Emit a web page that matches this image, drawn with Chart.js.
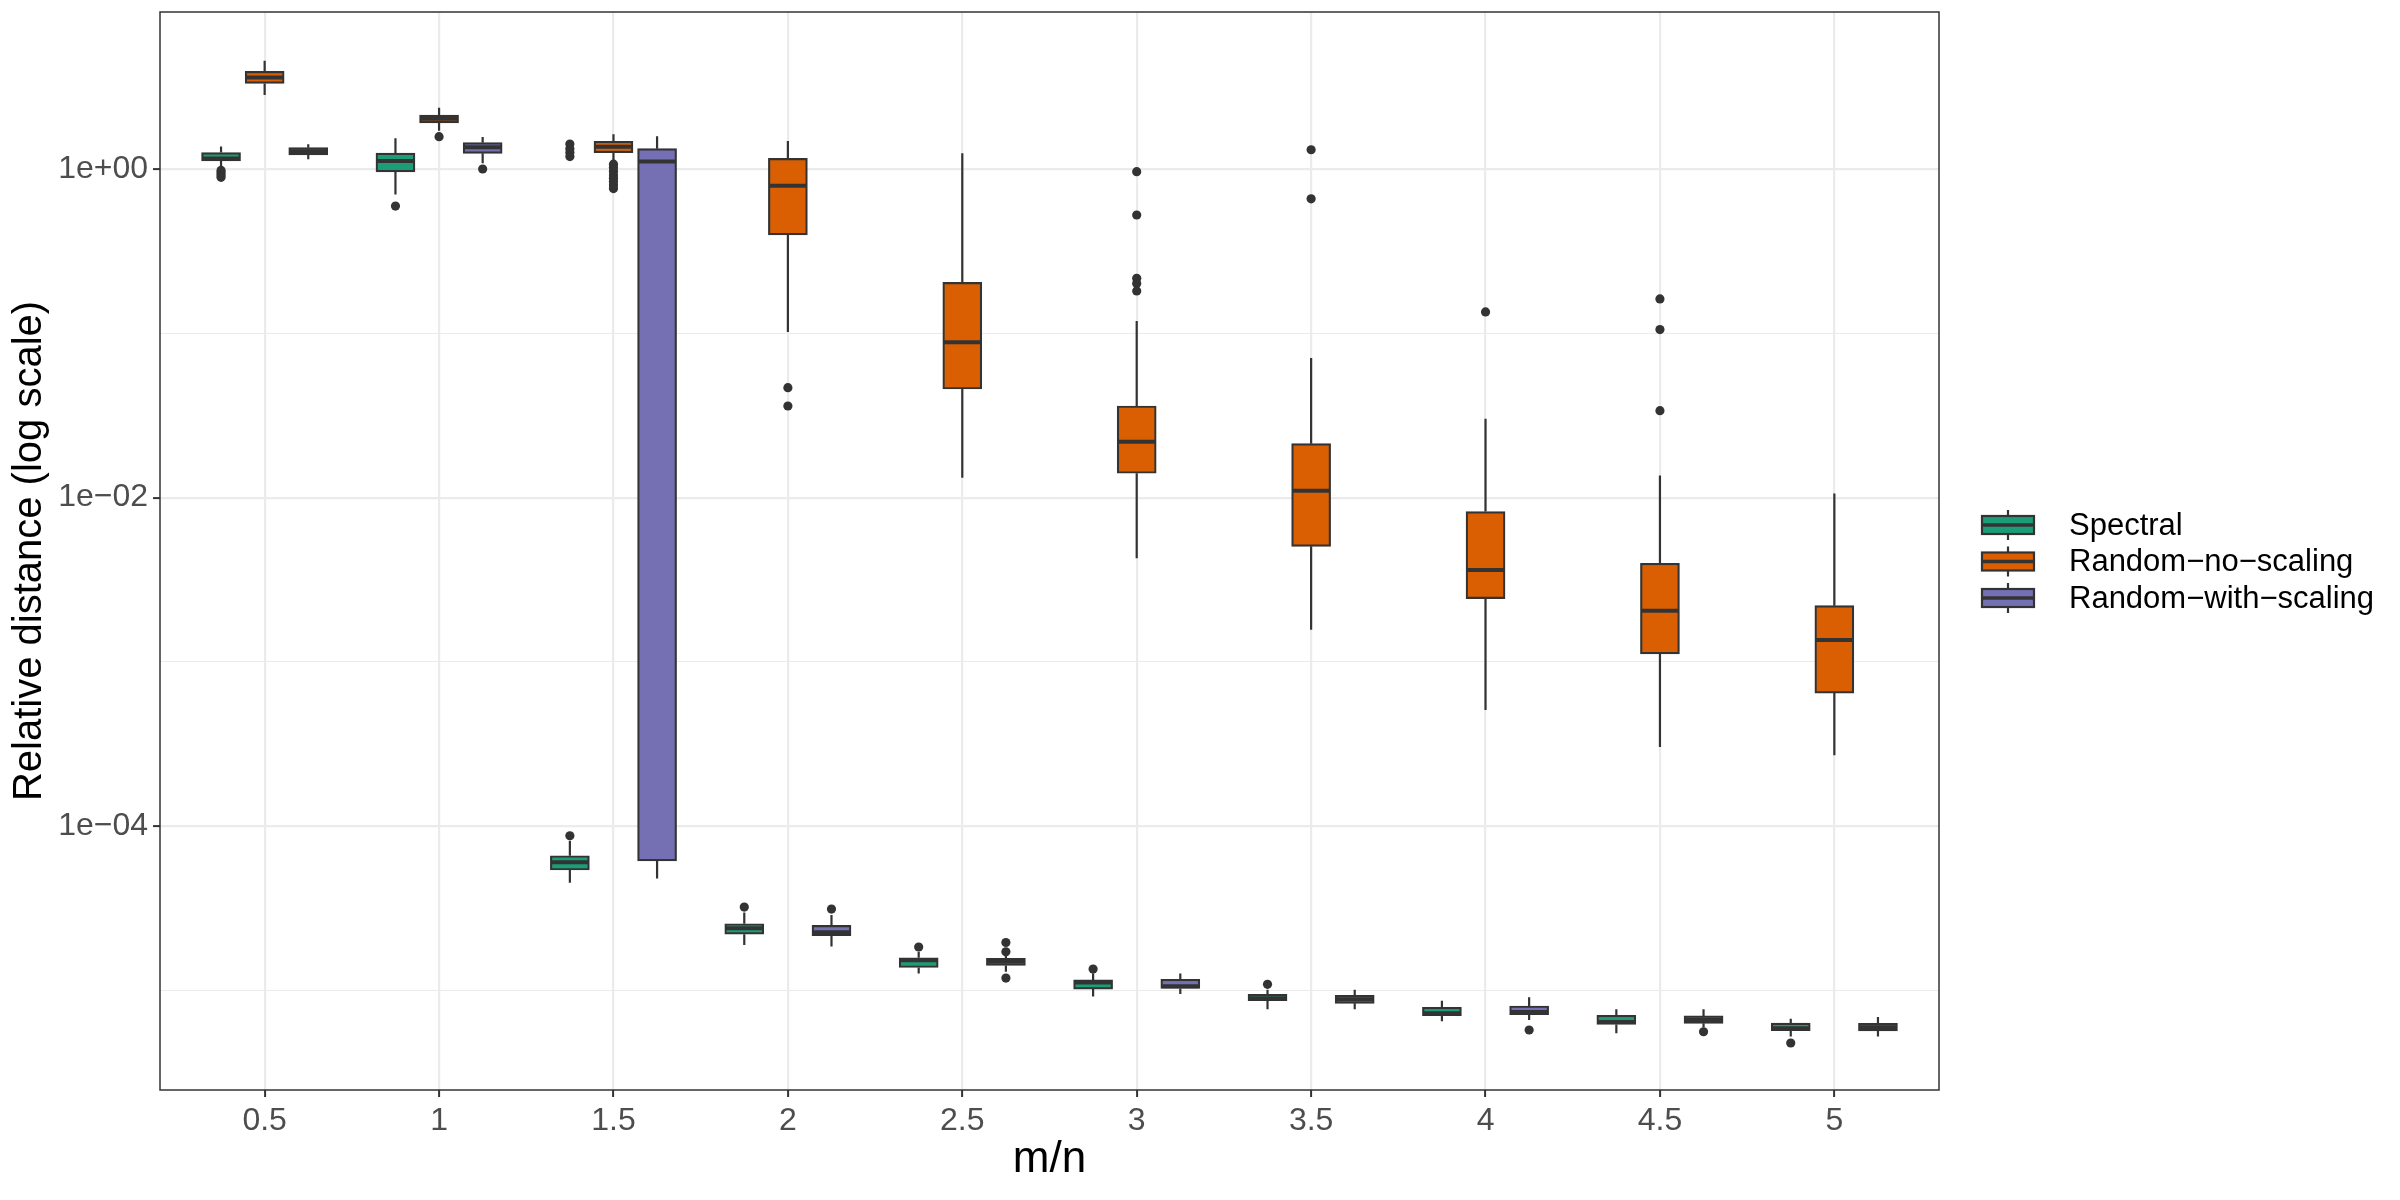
<!DOCTYPE html>
<html><head><meta charset="utf-8">
<script src="https://cdn.jsdelivr.net/npm/chart.js@4/dist/chart.umd.min.js"></script>
<style>html,body{margin:0;padding:0;background:#ffffff}#wrap{width:2400px;height:1200px}</style>
</head><body><div id="wrap"><canvas id="c" width="2400" height="1200"></canvas></div>
<script>
// ---------- data ----------
const ratios = [0.5, 1, 1.5, 2, 2.5, 3, 3.5, 4, 4.5, 5];
const xTickLabels = ['0.5', '1', '1.5', '2', '2.5', '3', '3.5', '4', '4.5', '5'];
const seriesNames = ['Spectral', 'Random\u2212no\u2212scaling', 'Random\u2212with\u2212scaling'];
const seriesColors = ['#1B9E77', '#D95F02', '#7570B3'];
const yTickValues = [1e-4, 1e-2, 1];
const yTickLabels = ['1e\u221204', '1e\u221202', '1e+00'];
const yMinorValues = [1e-5, 1e-3, 1e-1];

// Spectral
const spectralLow    = [1.03, 0.70, 4.53e-5, 1.89e-5, 1.27e-5, 9.2e-6, 7.7e-6, 6.5e-6, 5.5e-6, 5.24e-6];
const spectralQ1     = [1.12, 0.96, 5.41e-5, 2.20e-5, 1.38e-5, 1.02e-5, 8.67e-6, 7.03e-6, 6.22e-6, 5.69e-6];
const spectralMedian = [1.16, 1.12, 6.03e-5, 2.39e-5, 1.53e-5, 1.12e-5, 8.96e-6, 7.27e-6, 6.43e-6, 5.89e-6];
const spectralQ3     = [1.26, 1.25, 6.61e-5, 2.55e-5, 1.58e-5, 1.16e-5, 9.49e-6, 7.9e-6, 7.06e-6, 6.34e-6];
const spectralHigh   = [1.37, 1.54, 8.16e-5, 2.98e-5, 1.72e-5, 1.27e-5, 1.01e-5, 8.67e-6, 7.69e-6, 6.73e-6];
const spectralOutliers = [[0.98, 0.95, 0.92, 0.89], [0.595], [1.42, 1.33, 1.26, 1.19, 8.75e-5], [3.22e-5], [1.84e-5], [1.35e-5], [1.09e-5], [], [], [4.79e-6]];

// Random-no-scaling
const noScaleLow    = [2.82, 1.71, 1.083, 0.102, 0.0132, 0.00427, 0.00157, 0.000509, 0.000303, 0.00027];
const noScaleQ1     = [3.32, 1.91, 1.257, 0.397, 0.0458, 0.01406, 0.00505, 0.00243, 0.00112, 0.000646];
const noScaleMedian = [3.61, 2.02, 1.367, 0.791, 0.0881, 0.0219, 0.0110, 0.00362, 0.00205, 0.00136];
const noScaleQ3     = [3.93, 2.13, 1.474, 1.16, 0.204, 0.0361, 0.0213, 0.00822, 0.00398, 0.0022];
const noScaleHigh   = [4.56, 2.36, 1.626, 1.48, 1.246, 0.119, 0.0707, 0.0302, 0.01364, 0.0106];
const noScaleOutliers = [[], [1.573], [1.07, 1.02, 0.97, 0.92, 0.88, 0.84, 0.80, 0.76], [0.0467, 0.0361], [], [0.963, 0.525, 0.216, 0.201, 0.181], [1.31, 0.658], [0.135], [0.162, 0.1053, 0.0338], []];

// Random-with-scaling
const withScaleLow    = [1.146, 1.083, 4.8e-5, 1.85e-5, 1.30e-5, 9.52e-6, 7.69e-6, 6.62e-6, 5.95e-6, 5.24e-6];
const withScaleQ1     = [1.217, 1.246, 6.15e-5, 2.16e-5, 1.42e-5, 1.03e-5, 8.35e-6, 7.13e-6, 6.31e-6, 5.67e-6];
const withScaleMedian = [1.281, 1.356, 1.11, 2.26e-5, 1.50e-5, 1.06e-5, 8.84e-6, 7.4e-6, 6.62e-6, 5.97e-6];
const withScaleQ3     = [1.348, 1.446, 1.33, 2.49e-5, 1.57e-5, 1.17e-5, 9.35e-6, 8.05e-6, 7.0e-6, 6.31e-6];
const withScaleHigh   = [1.413, 1.566, 1.58, 2.88e-5, 1.63e-5, 1.27e-5, 1.01e-5, 9.1e-6, 7.69e-6, 6.9e-6];
const withScaleOutliers = [[], [1.0], [], [3.13e-5], [1.96e-5, 1.72e-5, 1.19e-5], [], [], [5.75e-6], [5.61e-6], []];

// ---------- build ----------
const series = [
  {lo: spectralLow, q1: spectralQ1, med: spectralMedian, q3: spectralQ3, hi: spectralHigh, out: spectralOutliers},
  {lo: noScaleLow, q1: noScaleQ1, med: noScaleMedian, q3: noScaleQ3, hi: noScaleHigh, out: noScaleOutliers},
  {lo: withScaleLow, q1: withScaleQ1, med: withScaleMedian, q3: withScaleQ3, hi: withScaleHigh, out: withScaleOutliers}
];
const dodge = [-0.125, 0, 0.125];
const boxWidthUnits = 0.1125;
const INK = '#333333';
const FONT = "'Liberation Sans', Arial, Helvetica, sans-serif";

const datasets = [];
series.forEach((s, k) => {
  datasets.push({
    type: 'bar',
    label: seriesNames[k],
    data: ratios.map((r, i) => ({x: r + dodge[k], y: [s.q1[i], s.q3[i]]})),
    backgroundColor: seriesColors[k],
    borderColor: INK,
    borderWidth: 2.2,
    borderSkipped: false,
    grouped: false,
    barThickness: 39,
    order: 2
  });
});
series.forEach((s, k) => {
  const pts = [];
  ratios.forEach((r, i) => s.out[i].forEach(v => pts.push({x: r + dodge[k], y: v})));
  datasets.push({
    type: 'scatter',
    label: seriesNames[k] + ' outliers',
    data: pts,
    pointRadius: 4.6,
    pointHoverRadius: 4.6,
    backgroundColor: INK,
    borderWidth: 0,
    order: 0
  });
});

const isMajorY = v => yTickValues.some(t => Math.abs(Math.log10(t) - Math.log10(v)) < 1e-6);

const boxPlugin = {
  id: 'boxplot',
  beforeDatasetsDraw(chart) {
    const {ctx, scales: {x, y}} = chart;
    ctx.save();
    ctx.strokeStyle = INK;
    ctx.lineWidth = 2.2;
    series.forEach((s, k) => {
      ratios.forEach((r, i) => {
        const px = x.getPixelForValue(r + dodge[k]);
        ctx.beginPath();
        ctx.moveTo(px, y.getPixelForValue(s.hi[i]));
        ctx.lineTo(px, y.getPixelForValue(s.q3[i]));
        ctx.moveTo(px, y.getPixelForValue(s.q1[i]));
        ctx.lineTo(px, y.getPixelForValue(s.lo[i]));
        ctx.stroke();
      });
    });
    ctx.restore();
  },
  afterDatasetsDraw(chart) {
    const {ctx, scales: {x, y}} = chart;
    const half = (x.getPixelForValue(boxWidthUnits) - x.getPixelForValue(0)) / 2;
    ctx.save();
    ctx.strokeStyle = INK;
    ctx.lineWidth = 4;
    series.forEach((s, k) => {
      ratios.forEach((r, i) => {
        const px = x.getPixelForValue(r + dodge[k]);
        const py = y.getPixelForValue(s.med[i]);
        ctx.beginPath();
        ctx.moveTo(px - half + 1, py);
        ctx.lineTo(px + half - 1, py);
        ctx.stroke();
      });
    });
    ctx.restore();
  },
  afterDraw(chart) {
    const {ctx, chartArea: a} = chart;
    ctx.save();
    // panel border
    ctx.strokeStyle = INK;
    ctx.lineWidth = 1.5;
    ctx.strokeRect(a.left, a.top, a.right - a.left, a.bottom - a.top);
    // legend
    const keyL = 1982, keyW = 52, boxH = 18, whisk = 15, textX = 2069;
    const y0 = 525, dy = 36.5;
    seriesNames.forEach((name, k) => {
      const cy = y0 + k * dy;
      const cx = keyL + keyW / 2;
      ctx.strokeStyle = INK;
      ctx.lineWidth = 2.2;
      ctx.beginPath();
      ctx.moveTo(cx, cy - whisk); ctx.lineTo(cx, cy - boxH / 2);
      ctx.moveTo(cx, cy + boxH / 2); ctx.lineTo(cx, cy + whisk);
      ctx.stroke();
      ctx.fillStyle = seriesColors[k];
      ctx.fillRect(keyL, cy - boxH / 2, keyW, boxH);
      ctx.strokeRect(keyL, cy - boxH / 2, keyW, boxH);
      ctx.lineWidth = 3.5;
      ctx.beginPath();
      ctx.moveTo(keyL, cy); ctx.lineTo(keyL + keyW, cy);
      ctx.stroke();
      ctx.fillStyle = '#000000';
      ctx.font = '31px ' + FONT;
      ctx.textAlign = 'left';
      ctx.textBaseline = 'middle';
      ctx.fillText(name, textX, cy + 1);
    });
    ctx.restore();
  }
};

new Chart(document.getElementById('c'), {
  type: 'bar',
  data: {datasets},
  plugins: [boxPlugin],
  options: {
    responsive: false,
    devicePixelRatio: 1,
    animation: false,
    layout: {padding: {top: 12, right: 461, left: 0, bottom: 0}},
    plugins: {legend: {display: false}, tooltip: {enabled: false}},
    scales: {
      x: {
        type: 'linear',
        min: 0.2,
        max: 5.3,
        offset: false,
        afterBuildTicks: s => { s.ticks = ratios.map(v => ({value: v})); },
        afterFit: s => { s.height = 110; s.paddingLeft = 0; s.paddingRight = 0; },
        ticks: {
          callback: (v, i) => xTickLabels[i],
          font: {size: 32, family: FONT},
          color: '#4D4D4D',
          padding: 5,
          maxRotation: 0,
          autoSkip: false
        },
        grid: {offset: false, color: '#EBEBEB', lineWidth: 2.2, tickColor: INK, tickLength: 7, tickWidth: 2},
        border: {display: false},
        title: {display: true, text: 'm/n', font: {size: 44, family: FONT}, color: '#000000', padding: {top: 0, bottom: 14}}
      },
      y: {
        type: 'logarithmic',
        min: Math.pow(10, -5.6056),
        max: Math.pow(10, 0.9556),
        afterBuildTicks: s => {
          s.ticks = yMinorValues.concat(yTickValues).sort((a, b) => a - b).map(v => ({value: v}));
        },
        afterFit: s => { s.width = 160; s.paddingTop = 0; s.paddingBottom = 0; },
        ticks: {
          callback: v => {
            const i = yTickValues.findIndex(t => Math.abs(Math.log10(t) - Math.log10(v)) < 1e-6);
            return i >= 0 ? yTickLabels[i] : '';
          },
          font: {size: 32, family: FONT},
          color: '#4D4D4D',
          padding: 5,
          autoSkip: false
        },
        grid: {
          color: '#EBEBEB',
          lineWidth: c => (c.tick && isMajorY(c.tick.value)) ? 2.2 : 1.1,
          tickColor: c => (c.tick && isMajorY(c.tick.value)) ? INK : 'rgba(0,0,0,0)',
          tickLength: 7,
          tickWidth: 2
        },
        border: {display: false},
        title: {display: true, text: 'Relative distance (log scale)', font: {size: 40, family: FONT}, color: '#000000', padding: {top: 6, bottom: 0}}
      }
    }
  }
});
</script>
</body></html>
